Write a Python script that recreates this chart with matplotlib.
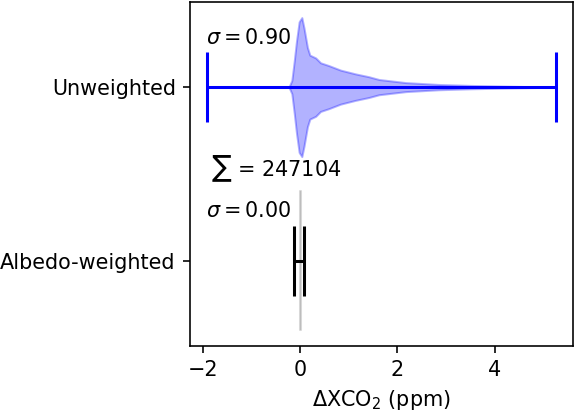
import matplotlib
matplotlib.use('Agg')
import matplotlib.pyplot as plt

S = 1.46   # scale from 100 dpi to the reference's ~146 dpi look
FS = 10.25 * S

categories = ['Albedo-weighted', 'Unweighted']
positions = [0, 1]

# Unweighted distribution (relative density profile)
unw_coords = [-0.23, -0.17, -0.12, -0.075, -0.02, 0.035, 0.08, 0.15, 0.20, 0.32,
              0.42, 0.59, 0.83, 1.14, 1.41, 1.62, 2.17, 2.85, 3.52, 4.20, 5.25]
unw_density = [0.0, 0.095, 0.38, 0.66, 0.94, 1.0, 0.85, 0.57, 0.46, 0.42,
               0.35, 0.31, 0.245, 0.19, 0.15, 0.11, 0.065, 0.038, 0.024, 0.014, 0.0]
unw_min, unw_max = -1.906, 5.25
unw_sigma = 0.90

# Albedo-weighted distribution (essentially a spike at zero)
alb_coords = [-0.012, -0.006, 0.006, 0.012]
alb_density = [1.0, 1.0, 1.0, 1.0]
alb_min, alb_max = -0.12, 0.08
alb_sigma = 0.00

total_n = 247104

vpstats = [
    dict(coords=alb_coords, vals=alb_density, mean=0.0, median=0.0,
         min=alb_min, max=alb_max),
    dict(coords=unw_coords, vals=unw_density, mean=0.0, median=0.0,
         min=unw_min, max=unw_max),
]
body_colors = ['gray', 'blue']
line_colors = ['black', 'blue']
sigmas = [alb_sigma, unw_sigma]

fig = plt.figure(figsize=(5.75, 4.12), dpi=100)
ax = fig.add_axes([0.3304, 0.1602, 0.666, 0.835])

for st, pos, bc, lc in zip(vpstats, positions, body_colors, line_colors):
    parts = ax.violin([st], positions=[pos], orientation='horizontal', widths=0.8,
                      showextrema=True)
    for b in parts['bodies']:
        b.set_facecolor(bc)
        b.set_edgecolor(bc)
        b.set_alpha(0.3)
        b.set_linewidth(1.0 * S)
    for key in ('cmins', 'cmaxes', 'cbars'):
        parts[key].set_color(lc)
        parts[key].set_linewidth(1.5 * S)

text_x = -1.93
for pos, sg in zip(positions, sigmas):
    ax.text(text_x, pos + 0.25, r'$\sigma = %.2f$' % sg, fontsize=FS,
            ha='left', va='baseline')
ax.text(-1.84, 0.49, r'$\sum$ = %d' % total_n, fontsize=FS,
        ha='left', va='baseline')

ax.set_yticks(positions)
ax.set_yticklabels(categories)
ax.set_xlabel(r'$\Delta$XCO$_2$ (ppm)', fontsize=FS, labelpad=4 * S)
ax.tick_params(labelsize=FS, length=3.5 * S, width=0.8 * S, pad=3.5 * S)
for sp in ax.spines.values():
    sp.set_linewidth(0.8 * S)

fig.savefig('out.png', dpi=100)
